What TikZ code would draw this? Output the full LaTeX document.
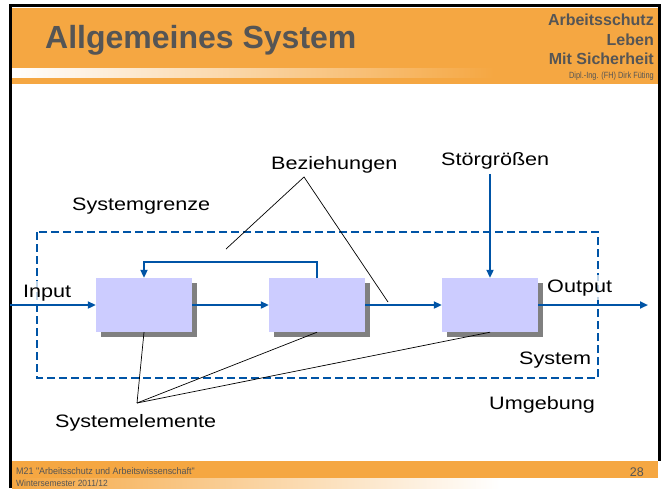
\documentclass[tikz,border=0pt]{standalone}
\usepackage{fontspec}
\setmainfont{Liberation Sans}
\newfontfamily\labelfont[FakeStretch=1.2]{Liberation Sans}
\newfontfamily\footfont[FakeStretch=0.94]{Liberation Sans}
\newfontfamily\namefont[FakeStretch=0.82]{Liberation Sans}
\usetikzlibrary{arrows.meta,shadows}

\definecolor{slideorange}{RGB}{245,167,66}
\definecolor{titlegray}{RGB}{85,85,85}
\definecolor{flowblue}{RGB}{0,84,166}
\definecolor{boxblue}{RGB}{204,204,255}

\begin{document}
\begin{tikzpicture}[x=1pt,y=-1pt,
  flow/.style={draw=flowblue,line width=2pt,-{Triangle[length=8pt,width=7pt]}},
  elembox/.style={fill=boxblue,minimum width=96pt,minimum height=54pt,inner sep=0pt,
    general shadow={fill=gray,shadow xshift=5pt,shadow yshift=-5pt}},
  lbl/.style={font=\labelfont\fontsize{18}{18}\selectfont,inner sep=0pt,anchor=base west},
  bglbl/.style={lbl,fill=white,fill opacity=0.75,text opacity=1,inner xsep=3pt,inner ysep=4pt},
  pointer/.style={draw=black,line width=0.7pt}]
\useasboundingbox (0,0) rectangle (666,488);

% Header and footer bands
\fill[slideorange] (12,8) rectangle (658,84);
\shade[left color=white,right color=slideorange] (12,68) rectangle (494,77);
\fill[slideorange] (12,461) rectangle (658,478);
\shade[left color=slideorange,right color=white] (12,478) rectangle (500,488);

% Header texts
\node[anchor=base west,inner sep=0pt,text=titlegray,font=\bfseries\fontsize{32}{32}\selectfont] (title) at (45,48) {Allgemeines System};
\node[anchor=base east,inner sep=0pt,text=titlegray,font=\bfseries\fontsize{16}{16}\selectfont] (hdra) at (654,25) {Arbeitsschutz};
\node[anchor=base east,inner sep=0pt,text=titlegray,font=\bfseries\fontsize{16}{16}\selectfont] (hdrb) at (654,45) {Leben};
\node[anchor=base east,inner sep=0pt,text=titlegray,font=\bfseries\fontsize{16}{16}\selectfont] (hdrc) at (654,64) {Mit Sicherheit};
\node[anchor=base east,inner sep=0pt,text=titlegray,font=\namefont\fontsize{9}{9}\selectfont] (hdrd) at (654,78) {Dipl.-Ing. (FH) Dirk Füting};

% Footer texts
\node[anchor=base west,inner sep=0pt,text=titlegray,font=\footfont\fontsize{9.5}{9.5}\selectfont] (fta) at (16,474) {M21 "Arbeitsschutz und Arbeitswissenschaft"};
\node[anchor=base west,inner sep=0pt,text=titlegray,font=\footfont\fontsize{9}{9}\selectfont] (ftb) at (16,486.5) {Wintersemester 2011/12};
\node[anchor=base east,inner sep=0pt,text=titlegray,font=\fontsize{12.5}{12.5}\selectfont] (page) at (644,476) {28};

% Frame
\draw[line width=2.5pt] (10.5,488) -- (10.5,5.5) -- (659.5,5.5) -- (659.5,461);

% System border
\draw[flowblue,line width=2pt,dash pattern=on 8pt off 4pt] (37,232) rectangle (598,378);

% Elements
\node[elembox] (box1) at (144,305) {};
\node[elembox] (box2) at (317,305) {};
\node[elembox] (box3) at (490,305) {};

% Labels
\node[lbl] (sgrenze) at (72,210) {Systemgrenze};
\node[lbl] (bez) at (271,169) {Beziehungen};
\node[lbl] (stoer) at (441,165) {Störgrößen};
\node[lbl] (system) at (519,364) {System};
\node[lbl] (umg) at (489,409) {Umgebung};
\node[lbl] (selem) at (55,427) {Systemelemente};
\node[bglbl] (input) at (20,297) {Input};
\node[bglbl] (output) at (544,292) {Output};

% Flows
\coordinate (inlet) at (10,305);
\coordinate (outlet) at (648,305);
\draw[flow] (inlet) -- (box1);
\draw[flow] (box1) -- (box2);
\draw[flow] (box2) -- (box3);
\draw[flow] (box3) -- (outlet);
\draw[flow] (box2.north) -- ++(0,-16) -| (box1.north);
\draw[flow] (stoer.south -| box3.north) ++(0,5) -- (box3.north);

% Pointer lines
\coordinate (bezpt) at (304,177);
\coordinate (bezl) at (226,249);
\coordinate (bezr) at (388,302);
\draw[pointer] (bezl) -- (bezpt) -- (bezr);
\coordinate (elpt) at (137,403);
\draw[pointer] (box1.south) -- (elpt);
\draw[pointer] (box2.south) -- (elpt);
\draw[pointer] (box3.south) -- (elpt);
\end{tikzpicture}
\end{document}
